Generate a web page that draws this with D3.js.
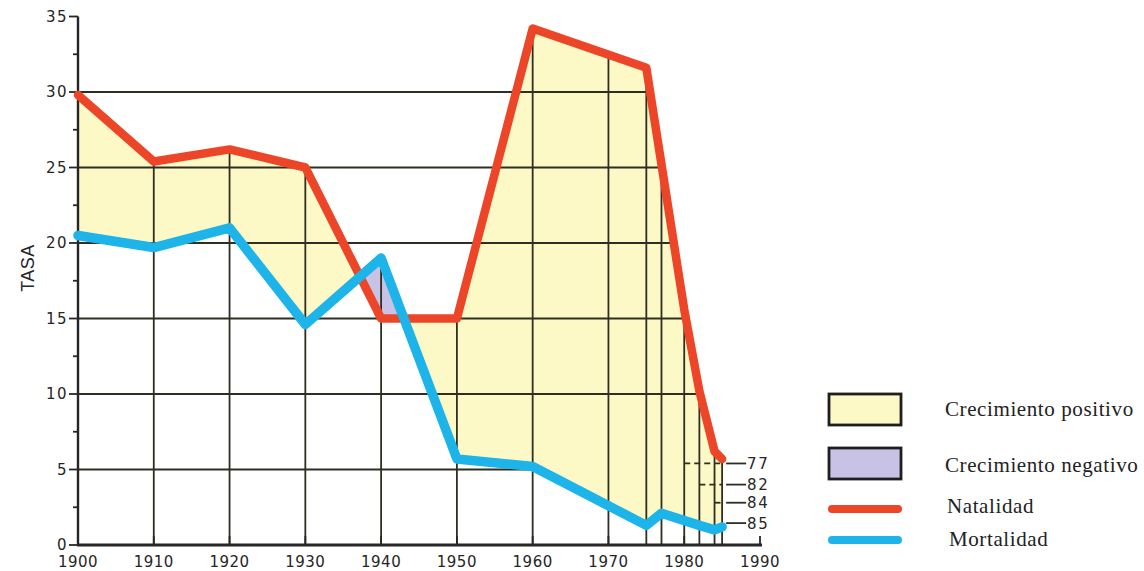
<!DOCTYPE html>
<html>
<head>
<meta charset="utf-8">
<script src="https://cdn.jsdelivr.net/npm/d3@7"></script>
<style>
  html, body { margin: 0; padding: 0; background: #ffffff; }
  svg { display: block; }
</style>
</head>
<body>
<svg id="chart" width="1144" height="571"></svg>
<script>
// ---------------- data ----------------
const natYears  = [1900, 1910, 1920, 1930, 1940, 1950, 1960, 1975, 1977, 1980, 1982, 1984, 1985];
const natValues = [29.8, 25.4, 26.2, 25.0, 15.0, 15.0, 34.2, 31.6, 25.2, 15.6, 10.2, 6.2, 5.7];
const mortYears  = [1900, 1910, 1920, 1930, 1940, 1950, 1960, 1975, 1977, 1982, 1984, 1985];
const mortValues = [20.5, 19.7, 21.0, 14.6, 19.0, 5.7, 5.2, 1.3, 2.1, 1.3, 1.0, 1.2];

const xTicks = [1900, 1910, 1920, 1930, 1940, 1950, 1960, 1970, 1980, 1990];
const yTicks = [0, 5, 10, 15, 20, 25, 30, 35];
const yMinorTicks = [2.5, 7.5, 12.5, 17.5, 22.5, 27.5, 32.5];
const gridYears = [1910, 1920, 1930, 1940, 1950, 1960, 1970, 1975, 1977, 1980, 1982, 1984, 1985];
const gridLevels = [5, 10, 15, 20, 25, 30];

const annLabels = ["77", "82", "84", "85"];
const annLevels = [5.4, 4.0, 2.8, 1.45];
const annStartYears = [1980, 1982, 1984, 1985];
const annEndYear = 1985;

const legendLabels = ["Crecimiento positivo", "Crecimiento negativo", "Natalidad", "Mortalidad"];

// ---------------- setup ----------------
const C_RED = "#ec4528", C_BLUE = "#1db4ea", C_YEL = "#fdf9c6", C_PUR = "#c8c2e4", C_GRID = "#2e2e22", C_INK = "#262626";

const svg = d3.select("#chart");
const x = d3.scaleLinear().domain([1900, 1990]).range([78, 760]);
const y = d3.scaleLinear().domain([0, 35]).range([545, 16.5]);

const nat = natYears.map((yr, i) => ({ yr, v: natValues[i] }));
const mort = mortYears.map((yr, i) => ({ yr, v: mortValues[i] }));

function interp(series, yr) {
  for (let i = 0; i < series.length - 1; i++) {
    const a = series[i], b = series[i + 1];
    if (yr >= a.yr && yr <= b.yr) return a.v + (b.v - a.v) * (yr - a.yr) / (b.yr - a.yr);
  }
  return null;
}
function lastCrossing(series, level) {
  for (let i = series.length - 2; i >= 0; i--) {
    const a = series[i], b = series[i + 1];
    if ((a.v - level) * (b.v - level) <= 0 && a.v !== b.v) {
      return a.yr + (level - a.v) * (b.yr - a.yr) / (b.v - a.v);
    }
  }
  return null;
}

// ---------------- fills ----------------
const defs = svg.append("defs");
defs.append("clipPath").attr("id", "aboveMort").append("path")
  .attr("d", d3.area().x(d => x(d.yr)).y0(0).y1(d => y(d.v))(mort));
defs.append("clipPath").attr("id", "aboveNat").append("path")
  .attr("d", d3.area().x(d => x(d.yr)).y0(0).y1(d => y(d.v))(nat));

svg.append("path")
  .attr("d", d3.area().x(d => x(d.yr)).y0(y(0)).y1(d => y(d.v))(nat))
  .attr("fill", C_YEL).attr("clip-path", "url(#aboveMort)");
svg.append("path")
  .attr("d", d3.area().x(d => x(d.yr)).y0(y(0)).y1(d => y(d.v))(mort))
  .attr("fill", C_PUR).attr("clip-path", "url(#aboveNat)");

// ---------------- grid ----------------
const grid = svg.append("g").attr("stroke", C_GRID).attr("stroke-width", 1.8);
gridYears.forEach(yr => {
  const top = Math.max(interp(nat, yr), interp(mort, yr) ?? 0);
  grid.append("line").attr("x1", x(yr)).attr("x2", x(yr)).attr("y1", y(0)).attr("y2", y(top));
});
gridLevels.forEach(l => {
  let end = lastCrossing(nat, l);
  if (end === null) end = lastCrossing(mort, l);
  grid.append("line").attr("x1", x(1900)).attr("x2", x(end)).attr("y1", y(l)).attr("y2", y(l));
});

// ---------------- axes ----------------
const ax = svg.append("g").attr("stroke", C_INK);
ax.append("line").attr("x1", x(1900)).attr("x2", x(1900)).attr("y1", y(0)).attr("y2", y(35)).attr("stroke-width", 2.4);
ax.append("line").attr("x1", x(1900) - 1).attr("x2", x(1990) + 2).attr("y1", y(0)).attr("y2", y(0)).attr("stroke-width", 2.8);
yTicks.forEach(t => ax.append("line").attr("x1", x(1900) - 9).attr("x2", x(1900)).attr("y1", y(t)).attr("y2", y(t)).attr("stroke-width", 1.8));
yMinorTicks.forEach(t => ax.append("line").attr("x1", x(1900) - 5).attr("x2", x(1900)).attr("y1", y(t)).attr("y2", y(t)).attr("stroke-width", 1.8));
xTicks.forEach(t => ax.append("line").attr("x1", x(t)).attr("x2", x(t)).attr("y1", y(0)).attr("y2", y(0) - 9).attr("stroke-width", 1.8));

svg.append("g").selectAll("text").data(yTicks).join("text")
  .attr("x", x(1900) - 10).attr("y", d => y(d)).attr("dy", "0.35em")
  .attr("text-anchor", "end").attr("font-family", "DejaVu Sans, sans-serif")
  .attr("font-size", 15).attr("letter-spacing", 1.5).attr("fill", C_INK).text(d => d);

svg.append("g").selectAll("text").data(xTicks).join("text")
  .attr("x", d => x(d)).attr("y", 567)
  .attr("text-anchor", "middle").attr("font-family", "DejaVu Sans, sans-serif")
  .attr("font-size", 15).attr("letter-spacing", 0.5).attr("fill", C_INK).text(d => d);

svg.append("text").attr("transform", "translate(34,268) rotate(-90)")
  .attr("text-anchor", "middle").attr("font-family", "Liberation Sans, Arial, sans-serif")
  .attr("font-size", 18).attr("letter-spacing", 0.5).attr("fill", C_INK).text("TASA");

// ---------------- annotations ----------------
const ann = svg.append("g").attr("stroke", C_GRID).attr("stroke-width", 1.8);
annLabels.forEach((lab, i) => {
  const yy = y(annLevels[i]);
  if (annStartYears[i] < annEndYear) {
    ann.append("line").attr("x1", x(annStartYears[i])).attr("x2", x(annEndYear)).attr("y1", yy).attr("y2", yy)
      .attr("stroke-dasharray", "6,4");
  }
  ann.append("line").attr("x1", x(annEndYear) + 4).attr("x2", x(annEndYear) + 24).attr("y1", yy).attr("y2", yy);
  svg.append("text").attr("x", x(annEndYear) + 25).attr("y", yy).attr("dy", "0.36em")
    .attr("font-family", "DejaVu Sans, sans-serif").attr("font-size", 15).attr("letter-spacing", 1.5)
    .attr("fill", C_INK).text(lab);
});

// ---------------- lines ----------------
const line = d3.line().x(d => x(d.yr)).y(d => y(d.v));
svg.append("path").attr("d", line(nat)).attr("fill", "none").attr("stroke", C_RED)
  .attr("stroke-width", 8.5).attr("stroke-linejoin", "round").attr("stroke-linecap", "round");
svg.append("path").attr("d", line(mort)).attr("fill", "none").attr("stroke", C_BLUE)
  .attr("stroke-width", 9.5).attr("stroke-linejoin", "round").attr("stroke-linecap", "round");

// ---------------- legend ----------------
const lg = svg.append("g");
lg.append("rect").attr("x", 829).attr("y", 394).attr("width", 72).attr("height", 31)
  .attr("fill", C_YEL).attr("stroke", "#1e1e1e").attr("stroke-width", 2.8);
lg.append("rect").attr("x", 829).attr("y", 448).attr("width", 72).attr("height", 31)
  .attr("fill", C_PUR).attr("stroke", "#1e1e1e").attr("stroke-width", 2.8);
lg.append("line").attr("x1", 832).attr("x2", 898).attr("y1", 509).attr("y2", 509)
  .attr("stroke", C_RED).attr("stroke-width", 8).attr("stroke-linecap", "round");
lg.append("line").attr("x1", 832).attr("x2", 898).attr("y1", 540).attr("y2", 540)
  .attr("stroke", C_BLUE).attr("stroke-width", 8).attr("stroke-linecap", "round");
const lgPos = [[945, 416], [945, 472], [947, 513], [949, 546]];
legendLabels.forEach((t, i) => {
  lg.append("text").attr("x", lgPos[i][0]).attr("y", lgPos[i][1])
    .attr("font-family", "Liberation Serif, Times New Roman, serif").attr("font-size", 21)
    .attr("letter-spacing", 0.6).attr("fill", "#222").text(t);
});
</script>
</body>
</html>
